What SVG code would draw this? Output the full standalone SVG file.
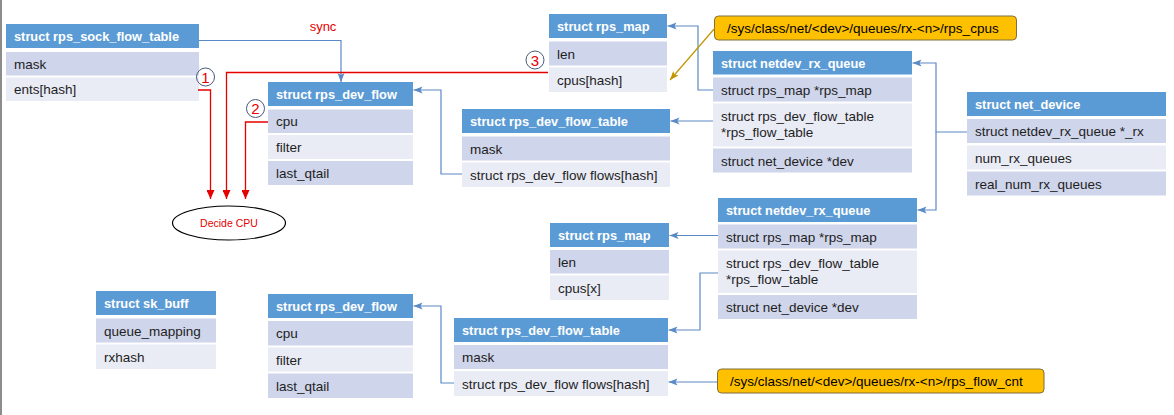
<svg xmlns="http://www.w3.org/2000/svg" width="1174" height="415" viewBox="0 0 1174 415">
<style>
.h{fill:#5B9BD5}
.d{fill:#CFD5EA}
.l{fill:#E9EBF5}
.ht{font-family:"Liberation Sans",Arial,sans-serif;font-size:12.8px;font-weight:bold;fill:#FFFFFF}
.t{font-family:"Liberation Sans",Arial,sans-serif;font-size:13.5px;fill:#1E1E1E}
.ob{fill:#FFC000;stroke:#7F6F3A;stroke-width:1}
.bl{fill:none;stroke:#5A8AC6;stroke-width:1.2;marker-end:url(#ab)}
.rd{fill:none;stroke:#E60000;stroke-width:1.3;marker-end:url(#ar)}
.or{fill:none;stroke:#C09500;stroke-width:1.2;marker-end:url(#ao)}
.num{font-family:"Liberation Sans",Arial,sans-serif;font-size:15px;fill:#E60000;text-anchor:middle}
.nc{fill:none;stroke:#4A5A78;stroke-width:1}
.red{font-family:"Liberation Sans",Arial,sans-serif;fill:#E60000}
</style>
<defs>
<marker id="ab" markerUnits="userSpaceOnUse" markerWidth="10" markerHeight="8" refX="9" refY="4" orient="auto"><path d="M0,0.5 L9,4 L0,7.5 L2,4 Z" fill="#5A8AC6"/></marker>
<marker id="ar" markerUnits="userSpaceOnUse" markerWidth="10" markerHeight="8" refX="9" refY="4" orient="auto"><path d="M0,0 L9,4 L0,8 Z" fill="#E60000"/></marker>
<marker id="ao" markerUnits="userSpaceOnUse" markerWidth="10" markerHeight="8" refX="9" refY="4" orient="auto"><path d="M0,0.5 L9,4 L0,7.5 L2,4 Z" fill="#C09500"/></marker>
</defs>
<rect x="0" y="0" width="1174" height="415" fill="#FFFFFF"/>
<rect x="0" y="0" width="2" height="415" fill="#8C8C8C"/>

<g id="rps_sock_flow_table">
<rect class="h" x="6" y="24" width="193" height="24"/>
<text class="ht" x="14" y="41">struct rps_sock_flow_table</text>
<rect class="d" x="6" y="52" width="193" height="23.5"/>
<text class="t" x="14" y="68.5">mask</text>
<rect class="l" x="6" y="77.5" width="193" height="23.5"/>
<text class="t" x="14" y="94">ents[hash]</text>
</g>

<g id="rps_dev_flow_top">
<rect class="h" x="268" y="82" width="145" height="24"/>
<text class="ht" x="276" y="99">struct rps_dev_flow</text>
<rect class="d" x="268" y="109.5" width="145" height="23.5"/>
<text class="t" x="276" y="126">cpu</text>
<rect class="l" x="268" y="135" width="145" height="24"/>
<text class="t" x="276" y="152">filter</text>
<rect class="d" x="268" y="161" width="145" height="24"/>
<text class="t" x="276" y="178">last_qtail</text>
</g>

<g id="rps_map_top">
<rect class="h" x="549" y="14" width="118" height="24"/>
<text class="ht" x="557" y="31">struct rps_map</text>
<rect class="d" x="549" y="41.5" width="118" height="24"/>
<text class="t" x="557" y="58.5">len</text>
<rect class="l" x="549" y="67.5" width="118" height="24.5"/>
<text class="t" x="557" y="84.5">cpus[hash]</text>
</g>

<g id="rps_dev_flow_table_top">
<rect class="h" x="462" y="109" width="208" height="24"/>
<text class="ht" x="470" y="126">struct rps_dev_flow_table</text>
<rect class="d" x="462" y="136.5" width="208" height="24"/>
<text class="t" x="470" y="153.5">mask</text>
<rect class="l" x="462" y="162.5" width="208" height="24.5"/>
<text class="t" x="470" y="179.5">struct rps_dev_flow flows[hash]</text>
</g>

<g id="sysfs_rps_cpus">
<rect class="ob" x="714.5" y="16" width="302" height="24" rx="4"/>
<text class="t" x="727" y="32.5" style="fill:#000000">/sys/class/net/&lt;dev&gt;/queues/rx-&lt;n&gt;/rps_cpus</text>
</g>

<g id="netdev_rx_queue_top">
<rect class="h" x="713" y="51" width="199" height="23.5"/>
<text class="ht" x="721" y="67.5">struct netdev_rx_queue</text>
<rect class="d" x="713" y="77.5" width="199" height="24"/>
<text class="t" x="721" y="94.5">struct rps_map *rps_map</text>
<rect class="l" x="713" y="103.5" width="199" height="43"/>
<text class="t" x="721" y="120.5">struct rps_dev_flow_table</text>
<text class="t" x="721" y="137">*rps_flow_table</text>
<rect class="d" x="713" y="148.5" width="199" height="24"/>
<text class="t" x="721" y="165.5">struct net_device *dev</text>
</g>

<g id="net_device">
<rect class="h" x="967" y="92" width="199" height="24"/>
<text class="ht" x="975" y="109">struct net_device</text>
<rect class="d" x="967" y="119" width="199" height="24"/>
<text class="t" x="975" y="136">struct netdev_rx_queue *_rx</text>
<rect class="l" x="967" y="145.5" width="199" height="24"/>
<text class="t" x="975" y="162.5">num_rx_queues</text>
<rect class="d" x="967" y="171.5" width="199" height="24"/>
<text class="t" x="975" y="188.5">real_num_rx_queues</text>
</g>

<g id="netdev_rx_queue_bottom">
<rect class="h" x="718" y="198" width="199" height="24"/>
<text class="ht" x="726" y="215">struct netdev_rx_queue</text>
<rect class="d" x="718" y="224.5" width="199" height="24"/>
<text class="t" x="726" y="241.5">struct rps_map *rps_map</text>
<rect class="l" x="718" y="250.5" width="199" height="42.5"/>
<text class="t" x="726" y="267.5">struct rps_dev_flow_table</text>
<text class="t" x="726" y="284">*rps_flow_table</text>
<rect class="d" x="718" y="295" width="199" height="24"/>
<text class="t" x="726" y="312">struct net_device *dev</text>
</g>

<g id="rps_map_bottom">
<rect class="h" x="550" y="223" width="119" height="24"/>
<text class="ht" x="558" y="240">struct rps_map</text>
<rect class="d" x="550" y="250" width="119" height="23.5"/>
<text class="t" x="558" y="266.5">len</text>
<rect class="l" x="550" y="275.5" width="119" height="24.5"/>
<text class="t" x="558" y="292.5">cpus[x]</text>
</g>

<g id="rps_dev_flow_table_bottom">
<rect class="h" x="454" y="318" width="214" height="24"/>
<text class="ht" x="462" y="335">struct rps_dev_flow_table</text>
<rect class="d" x="454" y="345" width="214" height="24"/>
<text class="t" x="462" y="362">mask</text>
<rect class="l" x="454" y="371" width="214" height="25"/>
<text class="t" x="462" y="388.5">struct rps_dev_flow flows[hash]</text>
</g>

<g id="sysfs_rps_flow_cnt">
<rect class="ob" x="717.5" y="369" width="326.5" height="24" rx="4"/>
<text class="t" x="730" y="385.5" style="fill:#000000">/sys/class/net/&lt;dev&gt;/queues/rx-&lt;n&gt;/rps_flow_cnt</text>
</g>

<g id="sk_buff">
<rect class="h" x="96" y="291" width="120" height="24"/>
<text class="ht" x="104" y="308">struct sk_buff</text>
<rect class="d" x="96" y="318.5" width="120" height="24"/>
<text class="t" x="104" y="335.5">queue_mapping</text>
<rect class="l" x="96" y="344.5" width="120" height="24.5"/>
<text class="t" x="104" y="361.5">rxhash</text>
</g>

<g id="rps_dev_flow_bottom">
<rect class="h" x="268" y="294" width="145" height="24"/>
<text class="ht" x="276" y="311">struct rps_dev_flow</text>
<rect class="d" x="268" y="321" width="145" height="24.5"/>
<text class="t" x="276" y="338">cpu</text>
<rect class="l" x="268" y="347.5" width="145" height="24"/>
<text class="t" x="276" y="364.5">filter</text>
<rect class="d" x="268" y="373.5" width="145" height="24.5"/>
<text class="t" x="276" y="390.5">last_qtail</text>
</g>

<g id="decide_cpu">
<ellipse cx="229" cy="223" rx="56.5" ry="17" fill="#FFFFFF" stroke="#000000" stroke-width="1.2"/>
<text class="red" x="229" y="226.5" font-size="10.5" text-anchor="middle">Decide CPU</text>
</g>

<g id="connectors">
<path class="bl" d="M199,40.5 H341 V82"/>
<path class="bl" d="M462,174 H441 V90 H413.5"/>
<path class="bl" d="M713,90 H698 V26 H667.5"/>
<path class="bl" d="M713,121 H670.5"/>
<path class="bl" d="M967,132 H936 V63 H912.5"/>
<path class="bl" d="M936,132 V210 H917.5"/>
<path class="bl" d="M718,235.5 H669.5"/>
<path class="bl" d="M718,273 H700 V330 H668.5"/>
<path class="bl" d="M454,383 H441 V306 H413.5"/>
<path class="bl" d="M717,382 H668.5"/>
<path class="or" d="M715,28 L670,80"/>
<path class="rd" d="M198,90 H210.5 V199"/>
<path class="rd" d="M548,72.5 H226.5 V199"/>
<path class="rd" d="M268,122 H245.5 V199"/>
</g>

<g id="labels">
<text class="red" x="323" y="31" font-size="13" text-anchor="middle">sync</text>
<circle class="nc" cx="205.5" cy="77" r="9"/>
<text class="num" x="205.5" y="82.5">1</text>
<circle class="nc" cx="255.5" cy="108.5" r="9"/>
<text class="num" x="255.5" y="114">2</text>
<circle class="nc" cx="535" cy="60" r="9"/>
<text class="num" x="535" y="65.5">3</text>
</g>
</svg>
